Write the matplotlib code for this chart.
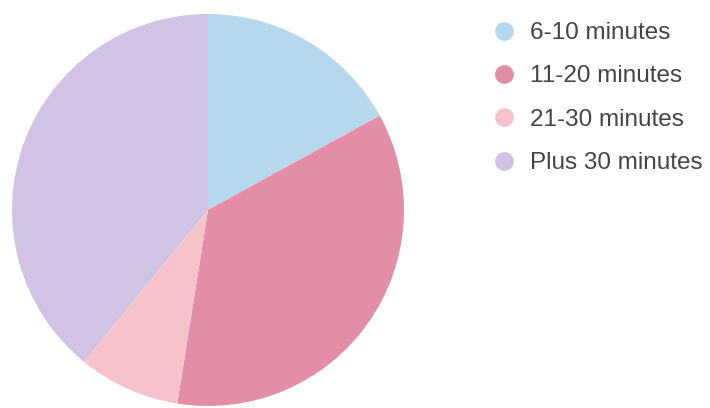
import matplotlib.pyplot as plt
from matplotlib.lines import Line2D

plt.rcParams['font.family'] = ['Liberation Sans', 'DejaVu Sans']

labels = ['6-10 minutes', '11-20 minutes', '21-30 minutes', 'Plus 30 minutes']
shares = [17.0, 35.5, 8.4, 39.1]
colors = ['#b5d8ee', '#e38ea6', '#f6c3cb', '#d0c3e3']

fig = plt.figure(figsize=(7.1, 4.08), dpi=100)
W, H = 710, 408

# pie area in pixels: left 12, top 14, size 392
ax = fig.add_axes([12 / W, (H - 14 - 392) / H, 392 / W, 392 / H])
ax.pie(shares, colors=colors, startangle=90, counterclock=False,
       radius=1, wedgeprops={'linewidth': 0})
ax.set_xlim(-1, 1)
ax.set_ylim(-1, 1)
ax.set_aspect('equal')
ax.axis('off')

handles = [Line2D([], [], marker='o', linestyle='', markersize=12.5,
                  markerfacecolor=c, markeredgecolor=c) for c in colors]
fig.legend(handles, labels, loc='upper left',
           bbox_to_anchor=(492 / W, 1 - 22 / H), frameon=False,
           fontsize=17.5, labelspacing=0.88, handletextpad=0.55,
           handlelength=1.0, borderpad=0, borderaxespad=0,
           labelcolor='#444444')

fig.savefig('out.png', dpi=100)
